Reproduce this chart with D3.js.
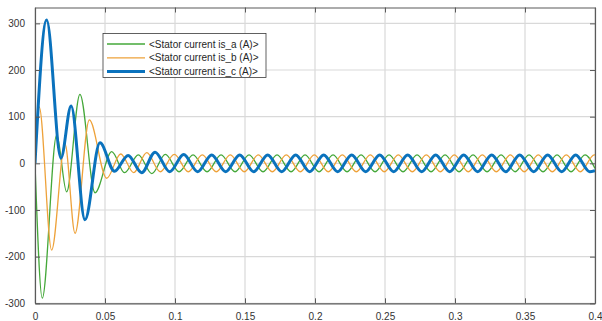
<!DOCTYPE html>
<html>
<head>
<meta charset="utf-8">
<script src="https://cdn.jsdelivr.net/npm/d3@7"></script>
<style>
  body { margin: 0; background: #fff; }
  svg { display: block; }
</style>
</head>
<body>
<svg id="chart" width="602" height="321"></svg>
<script>
// Stator phase currents (A) vs. time (s): waveform extrema read per phase
const timeA = [0, 0.0052, 0.0155, 0.0226, 0.0321, 0.0429, 0.0548, 0.0640, 0.0738, 0.0835, 0.0931, 0.1029,
  0.1129, 0.1229, 0.1329, 0.1429, 0.1529, 0.1629, 0.1729, 0.1829, 0.1929, 0.2029, 0.2129, 0.2229,
  0.2329, 0.2429, 0.2529, 0.2629, 0.2729, 0.2829, 0.2929, 0.3029, 0.3129, 0.3229, 0.3329, 0.3429,
  0.3529, 0.3629, 0.3729, 0.3829, 0.3929, 0.4];
const currentA = [0, -289, 61, -61, 148, -63, 25, -20, 18, -22, 19, -18,
  18, -18, 18, -18, 18, -18, 18, -18, 18, -18, 18, -18,
  18, -18, 18, -18, 18, -18, 18, -18, 18, -18, 18, -18,
  18, -18, 18, -18, 18, -11];

const timeB = [0, 0.0030, 0.0119, 0.0214, 0.0286, 0.0388, 0.0512, 0.0612, 0.0705, 0.0798, 0.0895, 0.0995,
  0.1095, 0.1195, 0.1295, 0.1395, 0.1495, 0.1595, 0.1695, 0.1795, 0.1895, 0.1995, 0.2095, 0.2195,
  0.2295, 0.2395, 0.2495, 0.2595, 0.2695, 0.2795, 0.2895, 0.2995, 0.3095, 0.3195, 0.3295, 0.3395,
  0.3495, 0.3595, 0.3695, 0.3795, 0.3895, 0.3995, 0.4];
const currentB = [0, 121, -186, 42, -150, 93, -32, 20, -20, 23, -18, 19,
  -18, 18, -18, 18, -18, 18, -18, 18, -18, 18, -18, 18,
  -18, 18, -18, 18, -18, 18, -18, 18, -18, 18, -18, 18,
  -18, 18, -18, 18, -18, 18, 18];

const timeC = [0, 0.0083, 0.0185, 0.0258, 0.0357, 0.0464, 0.0568, 0.0665, 0.0762, 0.0858, 0.0962, 0.1062,
  0.1162, 0.1262, 0.1362, 0.1462, 0.1562, 0.1662, 0.1762, 0.1862, 0.1962, 0.2062, 0.2162, 0.2262,
  0.2362, 0.2462, 0.2562, 0.2662, 0.2762, 0.2862, 0.2962, 0.3062, 0.3162, 0.3262, 0.3362, 0.3462,
  0.3562, 0.3662, 0.3762, 0.3862, 0.3962, 0.4];
const currentC = [0, 307, 11, 123, -121, 44, -17, 17, -20, 24, -18, 19,
  -18, 18, -18, 18, -18, 18, -18, 18, -18, 18, -18, 18,
  -18, 18, -18, 18, -18, 18, -18, 18, -18, 18, -18, 18,
  -18, 18, -18, 18, -18, -16];

const seriesNames = ["<Stator current is_a (A)>", "<Stator current is_b (A)>", "<Stator current is_c (A)>"];
const seriesColors = ["#45a83a", "#eea23a", "#0a72bd"];
const seriesWidths = [1.3, 1.3, 3];

const xTicks = [0, 0.05, 0.1, 0.15, 0.2, 0.25, 0.3, 0.35, 0.4];
const xTickLabels = ["0", "0.05", "0.1", "0.15", "0.2", "0.25", "0.3", "0.35", "0.4"];
const yTicks = [-300, -200, -100, 0, 100, 200, 300];
const yTickLabels = ["-300", "-200", "-100", "0", "100", "200", "300"];

const plot = { left: 35, right: 595, top: 7.5, bottom: 303.3 };

const svg = d3.select("#chart");
const x = d3.scaleLinear().domain([0, 0.4]).range([plot.left, plot.right]);
const y = d3.scaleLinear().domain([-300, 334]).range([plot.bottom, plot.top]);

// grid
const grid = svg.append("g");
grid.selectAll("line.v").data(xTicks).join("line")
  .attr("x1", d => x(d)).attr("x2", d => x(d))
  .attr("y1", plot.top).attr("y2", plot.bottom)
  .attr("stroke", "#d9d9d9").attr("stroke-width", 1.2);
grid.selectAll("line.h").data(yTicks).join("line")
  .attr("x1", plot.left).attr("x2", plot.right)
  .attr("y1", d => y(d)).attr("y2", d => y(d))
  .attr("stroke", "#d9d9d9").attr("stroke-width", 1.2);

// clip region for the traces
svg.append("clipPath").attr("id", "plotClip").append("rect")
  .attr("x", plot.left).attr("y", plot.top)
  .attr("width", plot.right - plot.left).attr("height", plot.bottom - plot.top);

const series = [
  d3.zip(timeA, currentA),
  d3.zip(timeB, currentB),
  d3.zip(timeC, currentC)
];

const line = d3.line()
  .x(d => x(d[0]))
  .y(d => y(d[1]))
  .curve(d3.curveMonotoneX);

const traces = svg.append("g").attr("clip-path", "url(#plotClip)");
series.forEach((s, i) => {
  traces.append("path")
    .datum(s)
    .attr("fill", "none")
    .attr("stroke", seriesColors[i])
    .attr("stroke-width", seriesWidths[i])
    .attr("stroke-linejoin", "round")
    .attr("d", line);
});

// axes (inward ticks, box on)
const font = "'Liberation Sans', Arial, Helvetica, sans-serif";
const xAxis = svg.append("g").attr("transform", `translate(0,${plot.bottom})`)
  .call(d3.axisBottom(x).tickValues(xTicks).tickFormat((d, i) => xTickLabels[i]).tickSizeInner(-5).tickSizeOuter(0).tickPadding(10));
const xAxisTop = svg.append("g").attr("transform", `translate(0,${plot.top})`)
  .call(d3.axisTop(x).tickValues(xTicks).tickFormat("").tickSizeInner(-5).tickSizeOuter(0));
const yAxis = svg.append("g").attr("transform", `translate(${plot.left},0)`)
  .call(d3.axisLeft(y).tickValues(yTicks).tickFormat((d, i) => yTickLabels[i]).tickSizeInner(-5).tickSizeOuter(0).tickPadding(10));
const yAxisRight = svg.append("g").attr("transform", `translate(${plot.right},0)`)
  .call(d3.axisRight(y).tickValues(yTicks).tickFormat("").tickSizeInner(-5).tickSizeOuter(0));

[xAxis, xAxisTop, yAxis, yAxisRight].forEach(g => {
  g.select(".domain").attr("stroke", "#5a5a5a").attr("stroke-width", 1.2);
  g.selectAll(".tick line").attr("stroke", "#5a5a5a").attr("stroke-width", 1);
  g.selectAll("text").attr("fill", "#333").style("font-family", font).style("font-size", "10px");
});
yAxis.selectAll("text").attr("dx", "0");

// legend
const legend = svg.append("g");
legend.append("rect")
  .attr("x", 103).attr("y", 33.5).attr("width", 163).attr("height", 44)
  .attr("fill", "#fff").attr("stroke", "#3a3a3a").attr("stroke-width", 0.8);
const rowY = [44, 57.8, 71.6];
seriesNames.forEach((name, i) => {
  legend.append("line")
    .attr("x1", 107).attr("x2", 145).attr("y1", rowY[i]).attr("y2", rowY[i])
    .attr("stroke", seriesColors[i]).attr("stroke-width", seriesWidths[i]);
  legend.append("text")
    .attr("x", 149).attr("y", rowY[i]).attr("dy", "0.35em")
    .attr("fill", "#262626")
    .style("font-family", font).style("font-size", "10px")
    .text(name);
});
</script>
</body>
</html>
